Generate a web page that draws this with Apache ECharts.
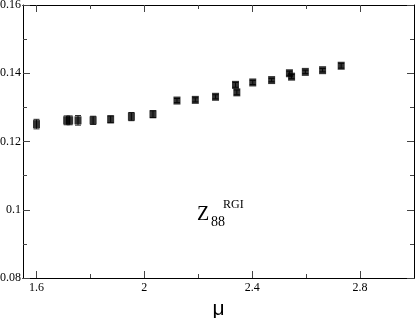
<!DOCTYPE html>
<html><head><meta charset="utf-8">
<script src="https://cdn.jsdelivr.net/npm/echarts@6/dist/echarts.min.js"></script>
<style>html,body{margin:0;padding:0;background:#fff}#c{width:415px;height:318px}</style>
</head><body><div id="c"></div>
<script>
var muValues = [1.600,1.712,1.723,1.754,1.810,1.875,1.952,2.032,2.121,2.189,2.264,2.338,2.343,2.402,2.472,2.538,2.546,2.597,2.661,2.730];
var zValues  = [0.1251,0.1262,0.1262,0.1262,0.1262,0.1265,0.1273,0.1280,0.1320,0.1322,0.1331,0.1366,0.1344,0.1373,0.1380,0.1400,0.1390,0.1404,0.1409,0.1422];
var zErrors  = [0.0014,0.0013,0.0013,0.0014,0.0012,0.0010,0.0012,0.0010,0.0006,0.0006,0.0006,0.0007,0.0007,0.0006,0.0005,0.0006,0.0006,0.0005,0.0005,0.0007];
var xMajorTicks = [1.6, 2.0, 2.4, 2.8];
var xMinorTicks = [1.8, 2.2, 2.6];
var xLabel = 'μ';

var pts = muValues.map(function(x,i){return [x, zValues[i], zErrors[i]];});
var serif = '"Liberation Serif", "DejaVu Serif", serif';
var lineC = '#000';
function xAx(pos, major, withLabel){
  return {type:'value', min:1.55, max:3.0, position:pos, gridIndex:0,
    axisLine:{show:true, onZero:false, lineStyle:{color:lineC,width:1}},
    axisTick:{show:true, inside:true, length: major?7:4, customValues: major?xMajorTicks:xMinorTicks, lineStyle:{color:'#444'}},
    axisLabel:{show:withLabel, customValues:xMajorTicks, margin:4, color:'#000', fontFamily:serif, fontSize:12},
    splitLine:{show:false},
    name: withLabel?xLabel:'', nameLocation:'middle', nameGap:16,
    nameTextStyle:{fontFamily:'"Liberation Sans", sans-serif', fontSize:21, color:'#000'}
  };
}
function yAx(pos, withLabel){
  return {type:'value', min:0.08, max:0.16, interval:0.02, position:pos, gridIndex:0,
    axisLine:{show:true, onZero:false, lineStyle:{color:lineC,width:1}},
    axisTick:{show:true, inside:true, length:7, lineStyle:{color:'#444'}},
    minorTick:{show:true, splitNumber:2, length:4, lineStyle:{color:'#444'}},
    axisLabel:{show:withLabel, margin:2, color:'#000', fontFamily:serif, fontSize:12},
    splitLine:{show:false}, minorSplitLine:{show:false}
  };
}
var chart = echarts.init(document.getElementById('c'), null, {renderer:'canvas'});
chart.setOption({
  animation:false,
  grid:{left:23, right:1, top:5, bottom:40, containLabel:false, outerBoundsMode:'none'},
  xAxis:[xAx('bottom',true,true), xAx('bottom',false,false), xAx('top',true,false), xAx('top',false,false)],
  yAxis:[yAx('left',true), yAx('right',false)],
  series:[
    {type:'custom', xAxisIndex:0, yAxisIndex:0, data:pts, z:2,
     renderItem:function(params, api){
       var x=api.value(0), y=api.value(1), e=api.value(2);
       var hi=api.coord([x,y+e]), lo=api.coord([x,y-e]);
       var cap=3;
       var st={stroke:'#222', lineWidth:1};
       return {type:'group', children:[
         {type:'line', shape:{x1:hi[0],y1:hi[1],x2:lo[0],y2:lo[1]}, style:st},
         {type:'line', shape:{x1:hi[0]-cap,y1:hi[1],x2:hi[0]+cap,y2:hi[1]}, style:st},
         {type:'line', shape:{x1:lo[0]-cap,y1:lo[1],x2:lo[0]+cap,y2:lo[1]}, style:st}
       ]};
     }},
    {type:'scatter', xAxisIndex:0, yAxisIndex:0, data:pts.map(function(p){return [p[0],p[1]];}),
     symbol:'rect', symbolSize:[7,8], itemStyle:{color:'#000'}, z:3}
  ],
  graphic:[
    {type:'text', x:197, y:215, style:{text:'Z', font:'20px "Liberation Serif", serif', fill:'#000', verticalAlign:'middle'}},
    {type:'text', x:211, y:222, style:{text:'88', font:'14px "Liberation Serif", serif', fill:'#000', verticalAlign:'middle'}},
    {type:'text', x:223, y:205, style:{text:'RGI', font:'12px "Liberation Serif", serif', fill:'#000', verticalAlign:'middle'}}
  ]
});
</script></body></html>
